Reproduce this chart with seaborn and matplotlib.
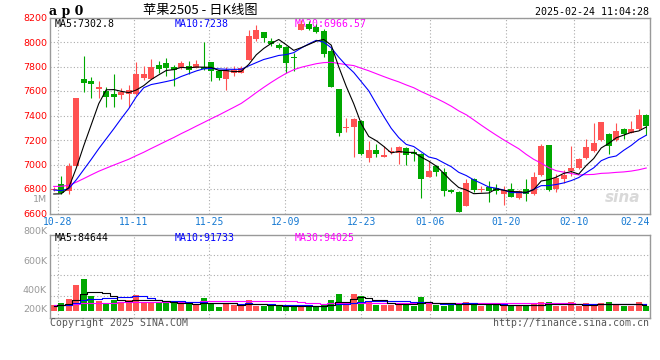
import numpy as np
import pandas as pd
import matplotlib
matplotlib.use("Agg")
import matplotlib.pyplot as plt
import seaborn as sns

# ---------------- data ----------------
holidays = ["2025-01-01", "2025-01-28", "2025-01-29", "2025-01-30",
            "2025-01-31", "2025-02-03", "2025-02-04"]
trade_days = pd.bdate_range("2024-10-25", "2025-02-24")
trade_days = trade_days[~trade_days.isin(pd.to_datetime(holidays))]
dates = list(trade_days.strftime("%m-%d"))

open_price = [6795, 6840, 6780, 6990, 7700, 7680, 7615, 7598, 7572, 7567,
              7575, 7575, 7710, 7700, 7810, 7830, 7795, 7790, 7802, 7790,
              7795, 7835, 7762, 7702, 7750, 7750, 7855, 8025, 8078, 8005,
              7973, 7956, 7880, 8100, 8150, 8125, 8092, 7930, 7618, 7300,
              7310, 7352, 7057, 7115, 7062, 7105, 7092, 7138, 7103, 7086,
              6899, 6989, 6940, 6792, 6778, 6664, 6885, 6795, 6813, 6805,
              6760, 6799, 6725, 6800, 6760, 6915, 7158, 6800, 6881, 6945,
              6975, 7052, 7111, 7200, 7250, 7202, 7287, 7260, 7287, 7401]
high_price = [6815, 6905, 7015, 7540, 7885, 7715, 7685, 7635, 7735, 7626,
              7650, 7835, 7805, 7862, 7843, 7870, 7810, 7845, 7843, 7856,
              7998, 7840, 7775, 7800, 7805, 7805, 8100, 8140, 8085, 8035,
              7995, 7965, 7910, 8180, 8170, 8150, 8110, 7950, 7620, 7380,
              7380, 7360, 7190, 7165, 7150, 7140, 7150, 7145, 7125, 7095,
              7030, 7000, 6975, 6800, 6780, 6880, 6890, 6828, 6865, 6840,
              6825, 6850, 6795, 6880, 6935, 7165, 7160, 6920, 6954, 7155,
              7050, 7210, 7340, 7350, 7260, 7340, 7300, 7355, 7455, 7410]
low_price = [6785, 6760, 6758, 6985, 7593, 7540, 7545, 7470, 7470, 7537,
             7470, 7570, 7690, 7700, 7748, 7720, 7640, 7780, 7735, 7785,
             7775, 7680, 7690, 7610, 7725, 7745, 7850, 8005, 8000, 7965,
             7945, 7748, 7760, 8095, 8100, 8075, 7875, 7630, 7232, 7265,
             7060, 7080, 7018, 7062, 7060, 7085, 7005, 6995, 7030, 6728,
             6895, 6905, 6740, 6765, 6610, 6660, 6775, 6772, 6695, 6760,
             6670, 6735, 6720, 6705, 6755, 6910, 6780, 6778, 6848, 6908,
             6965, 7045, 7105, 7195, 7085, 7195, 7205, 7255, 7280, 7240]
close_price = [6800, 6770, 6990, 7540, 7665, 7658, 7630, 7555, 7550, 7594,
               7605, 7735, 7735, 7800, 7783, 7785, 7768, 7830, 7775, 7820,
               7780, 7760, 7705, 7770, 7775, 7790, 8045, 8095, 8032, 7980,
               7950, 7830, 7866, 8145, 8108, 8085, 7900, 7635, 7260, 7310,
               7375, 7085, 7116, 7087, 7076, 7111, 7142, 7080, 7085, 6883,
               6948, 6940, 6786, 6772, 6615, 6848, 6788, 6800, 6786, 6780,
               6795, 6738, 6786, 6760, 6894, 7148, 6792, 6889, 6913, 6970,
               7043, 7143, 7175, 7344, 7155, 7272, 7253, 7287, 7401, 7315]
volume = [83000, 116000, 170000, 373000, 460000, 213000, 145000, 116000, 155000, 116000,
          155000, 228000, 131000, 131000, 116000, 116000, 106000, 97000, 97000, 83000,
          189000, 116000, 58000, 116000, 83000, 73000, 155000, 73000, 73000, 68000,
          68000, 68000, 58000, 68000, 58000, 58000, 97000, 155000, 242000, 106000,
          242000, 213000, 131000, 83000, 83000, 83000, 106000, 106000, 73000, 193000,
          131000, 83000, 73000, 83000, 106000, 120000, 83000, 68000, 97000, 83000,
          106000, 73000, 73000, 73000, 106000, 120000, 120000, 73000, 73000, 120000,
          73000, 106000, 73000, 106000, 120000, 91000, 73000, 73000, 120000, 73000]
# sessions before the visible window (estimated from where the MA lines start)
prior_close = [6740, 6750, 6770, 6785, 6740, 6748, 6800, 6806, 6875, 6885,
               6860, 6900, 6870, 6890, 6880, 6885, 6875, 6890, 6880, 6879,
               6830, 6820, 6825, 6828, 6822, 6760, 6745, 6740, 6751]
prior_volume = [88000, 95000, 90000, 84000, 92000, 86000, 98000, 90000, 87000, 93000,
                85000, 96000, 89000, 91000, 84000, 94000, 88000, 86000, 92000, 90000,
                75000, 72000, 78000, 70000, 74000, 70000, 66000, 72000, 68000]

tick_dates = ["10-28", "11-11", "11-25", "12-09", "12-23", "01-06", "01-20", "02-10", "02-24"]
price_ticks = [6600, 6800, 7000, 7200, 7400, 7600, 7800, 8000, 8200]
vol_tick_labels = ["800K", "600K", "400K", "200K"]
price_ma_labels = ["MA5:7302.8", "MA10:7238", "MA20:6966.57"]
vol_ma_labels = ["MA5:84644", "MA10:91733", "MA30:94025"]

title = "苹果2505 - 日K线图"
stamp = "2025-02-24 11:04:28"

# ---------------- derived ----------------
n = len(close_price)
x = np.arange(n)
o = np.array(open_price, float); c = np.array(close_price, float)
h = np.array(high_price, float); l = np.array(low_price, float)
v = np.array(volume, float)
np_ = len(prior_close)
cs = pd.Series(prior_close + close_price, dtype=float)
vs = pd.Series(prior_volume + volume, dtype=float)
ma5 = cs.rolling(5).mean().to_numpy()[np_:]
ma10 = cs.rolling(10).mean().to_numpy()[np_:]
ma30 = cs.rolling(30).mean().to_numpy()[np_:]
vma5 = vs.rolling(5).mean().to_numpy()[np_:]
vma10 = vs.rolling(10).mean().to_numpy()[np_:]
vma30 = vs.rolling(30).mean().to_numpy()[np_:]

RED = "#FF5252"
GREEN = "#00A800"
up = c >= o
colors = np.where(up, RED, GREEN)

W, H = 660, 360
def fx(px): return px / W
def fy(py): return 1 - py / H

MONO = "DejaVu Sans Mono"
GRID = dict(color="#ababab", linestyle=(0, (1, 2)), linewidth=0.8)
MA_COLORS = ["black", "#0000FF", "#FF00FF"]

fig = plt.figure(figsize=(6.6, 3.6), dpi=100)
ax = fig.add_axes([fx(50), fy(213.5), 600 / W, (213.5 - 17.5) / H])
axv = fig.add_axes([fx(50), fy(318.3), 600 / W, (318.3 - 234.7) / H])

# ---------------- candles ----------------
ax.vlines(x, l, h, colors=colors, linewidth=0.8, zorder=2)
body_h = np.maximum(np.abs(c - o), 8)
ax.bar(x, body_h, bottom=np.minimum(o, c), width=0.8, color=colors,
       linewidth=0, zorder=2.5)

sns.lineplot(x=x, y=ma30, ax=ax, color=MA_COLORS[2], linewidth=0.8, zorder=3, sort=False)
sns.lineplot(x=x, y=ma10, ax=ax, color=MA_COLORS[1], linewidth=0.8, zorder=3.1, sort=False)
sns.lineplot(x=x, y=ma5, ax=ax, color=MA_COLORS[0], linewidth=0.8, zorder=3.2, sort=False)

# grid tick positions (Sina spaces its date grid on a 79-slot step)
pos = {d: i for i, d in enumerate(dates)}
tick_pos = [(pos[d] - 0.5) * 79 / 78 for d in tick_dates]

ax.set_xlim(-0.5, n - 0.5)
ax.set_ylim(6600, 8200)
ax.set_yticks(price_ticks)
ax.set_yticklabels([str(t) for t in price_ticks], color="#FF0000",
                   fontsize=6.8, family="DejaVu Sans")
ax.set_xticks(tick_pos)
xl = ax.set_xticklabels(tick_dates, color="#1478D2", fontsize=7, family=MONO)
xl[-1].set_horizontalalignment("right")
ax.tick_params(axis="both", length=0)
ax.tick_params(axis="y", pad=2.2)
ax.tick_params(axis="x", pad=2.6)
ax.grid(True, **GRID)
ax.set_axisbelow(True)
for s in ax.spines.values():
    s.set_color("#999999"); s.set_linewidth(1)
ax.set_xlabel(""); ax.set_ylabel("")

# MA legend texts (under the candles)
for lab, px, col in zip(price_ma_labels, (55, 175, 295), MA_COLORS):
    ax.text(fx(px), fy(23.7), lab, transform=fig.transFigure, color=col,
            fontsize=7.1, family=MONO, va="center", zorder=1)
ax.text(0.955, 0.08, "sina", transform=ax.transAxes, color="#d9d9d9",
        fontsize=11, fontweight="bold", fontstyle="italic", ha="center",
        va="center", zorder=1)

# ---------------- volume ----------------
vdf = pd.DataFrame({"idx": x, "vol": v, "dir": np.where(up, "up", "down")})
sns.barplot(data=vdf, x="idx", y="vol", hue="dir", palette={"up": RED, "down": GREEN},
            dodge=False, width=0.8, saturation=1, errorbar=None, legend=False,
            linewidth=0, ax=axv, zorder=2)
sns.lineplot(x=x, y=vma30, ax=axv, color=MA_COLORS[2], linewidth=0.8, zorder=3,
             sort=False, drawstyle="steps-mid")
sns.lineplot(x=x, y=vma10, ax=axv, color=MA_COLORS[1], linewidth=0.8, zorder=3.1,
             sort=False, drawstyle="steps-mid")
sns.lineplot(x=x, y=vma5, ax=axv, color=MA_COLORS[0], linewidth=0.8, zorder=3.2,
             sort=False, drawstyle="steps-mid")

px_unit = 14500.0
axv.set_xlim(-0.5, n - 0.5)
axv.set_ylim(-7.6 * px_unit, 76 * px_unit)
axv.set_xticks(tick_pos)
axv.set_xticklabels([""] * len(tick_pos))
axv.set_yticks([(310.7 - yy) * px_unit for yy in (255.0, 275.3, 295.7)])
axv.set_yticklabels([])
axv.tick_params(axis="both", length=0)
axv.grid(True, **GRID)
axv.set_axisbelow(True)
for s in axv.spines.values():
    s.set_color("#999999"); s.set_linewidth(1)
axv.set_xlabel(""); axv.set_ylabel("")

for lab, yy in zip(vol_tick_labels, (231.7, 261.3, 290.7, 310.0)):
    fig.text(fx(47), fy(yy), lab, color="#999999", fontsize=6.8,
             family="DejaVu Sans", ha="right", va="center")

for lab, px, col in zip(vol_ma_labels, (55, 175, 295), MA_COLORS):
    axv.text(fx(px), fy(238.3), lab, transform=fig.transFigure, color=col,
             fontsize=7.1, family=MONO, va="center", zorder=5)

# ---------------- header / footer ----------------
fig.text(fx(49), fy(11.5), "a p 0", fontsize=9, fontweight="bold",
         family="DejaVu Serif", ha="left", va="center")
fig.text(fx(200), fy(10.5), title, fontsize=9.5,
         family=["Noto Sans CJK SC", "DejaVu Sans"], ha="center", va="center")
fig.text(fx(649), fy(12), stamp, fontsize=7.2, family=MONO, ha="right", va="center")
fig.text(fx(47), fy(200), "1M", fontsize=6.8, color="#999999",
         family="DejaVu Sans", ha="right", va="center")
fig.text(fx(50), fy(323.5), "Copyright 2025 SINA.COM", fontsize=7.1,
         family=MONO, color="#555555", ha="left", va="center")
fig.text(fx(649), fy(323.5), "http://finance.sina.com.cn", fontsize=7.1,
         family=MONO, color="#555555", ha="right", va="center")

fig.savefig("out.png", dpi=100, facecolor="white")
